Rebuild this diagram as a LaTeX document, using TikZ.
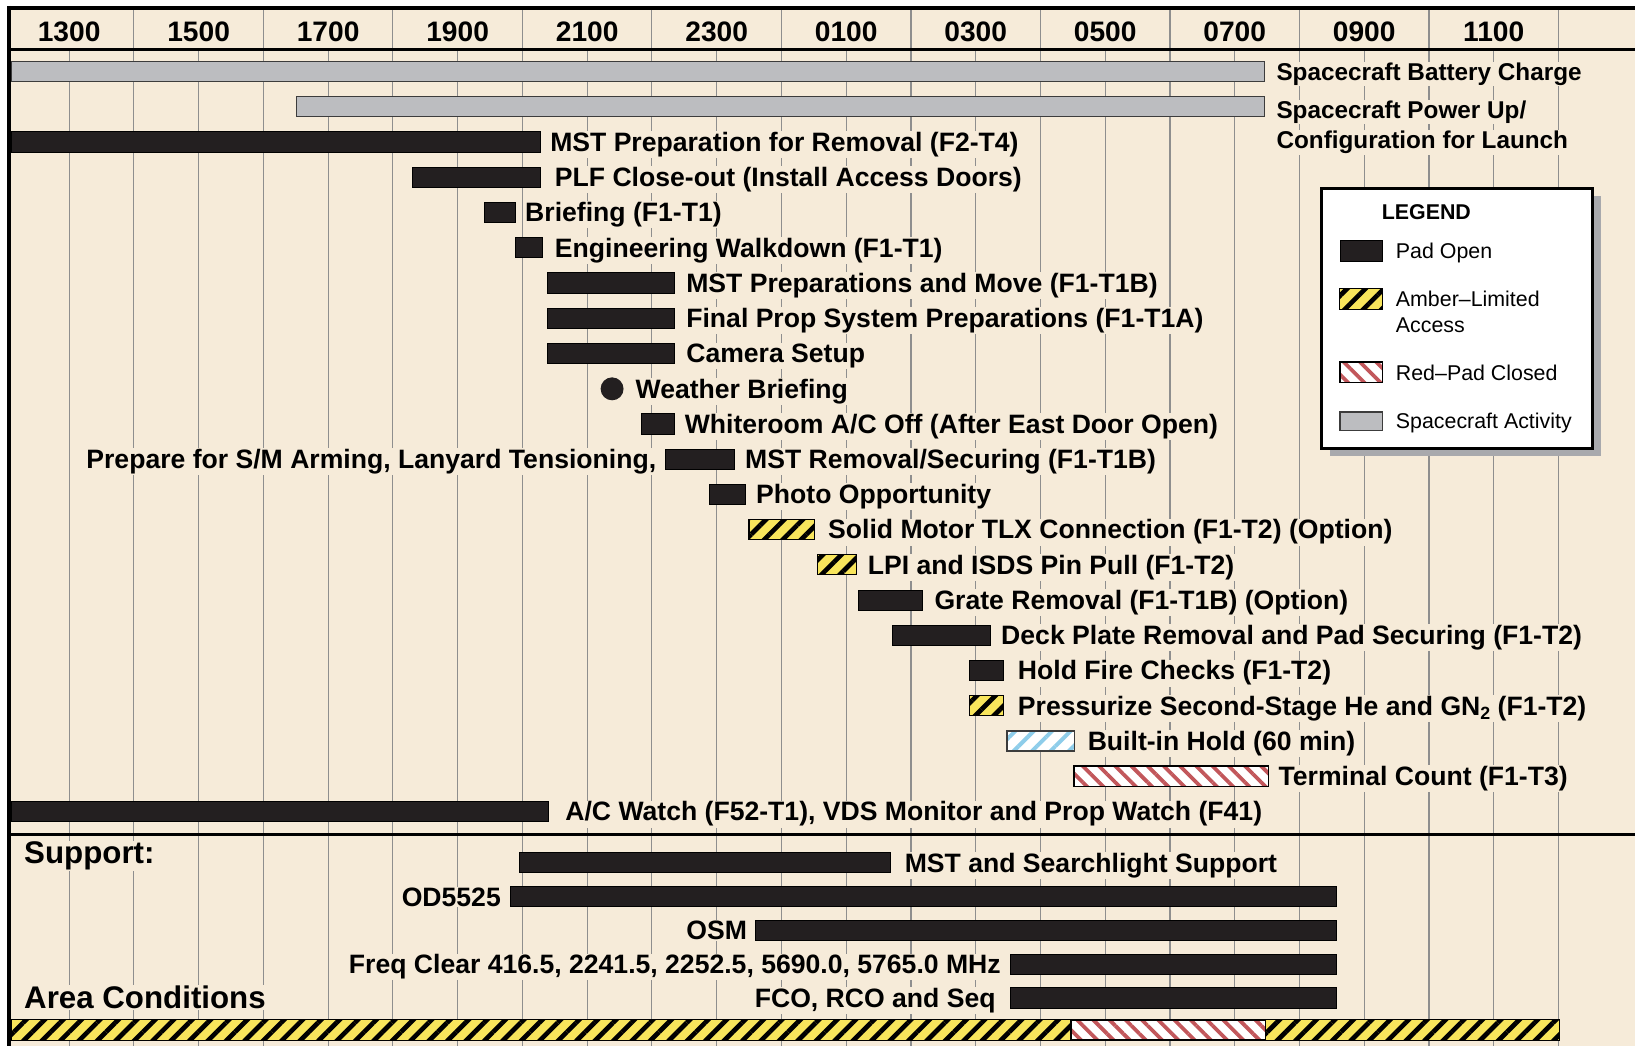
\documentclass[tikz,border=0pt]{standalone}
\usepackage{fontspec}
\setmainfont{Liberation Sans}
\usetikzlibrary{patterns.meta}
\definecolor{bg}{HTML}{F6EBD9}
\definecolor{barblack}{HTML}{231F20}
\definecolor{scgray}{HTML}{BCBDC0}
\definecolor{scedge}{HTML}{3C3C3C}
\definecolor{amberfill}{HTML}{F8E55C}
\definecolor{redstripe}{HTML}{C2575B}
\definecolor{bluestripe}{HTML}{8ECDEA}
\definecolor{gridc}{HTML}{8E8E8E}
\definecolor{shadowc}{HTML}{A8A9AD}
\newcommand\lblfont{\fontsize{25.5}{30}\selectfont\bfseries}
\newcommand\sclblfont{\fontsize{23.3}{28}\selectfont\bfseries}
\newcommand\hdrfont{\fontsize{27}{30}\selectfont\bfseries}
\newcommand\bigfont{\fontsize{30}{34}\selectfont\bfseries}
\newcommand\legfont{\fontsize{20.5}{24}\selectfont}
\newcommand\legbfont{\fontsize{20.5}{24}\selectfont\bfseries}
\newcommand\bx[4]{\path[#1] (#2,#4-9.7) rectangle (#3,#4+9.7);}
\begin{document}
\begin{tikzpicture}[x=1pt,y=-1pt,
  lbl/.style={font=\lblfont, anchor=base west, fill=bg, inner sep=1pt},
  sclbl/.style={lbl, font=\sclblfont},
  lble/.style={lbl, anchor=base east},
  hdr/.style={font=\hdrfont, anchor=base, inner sep=0pt},
  big/.style={font=\bigfont, anchor=base west, fill=bg, inner sep=1pt},
  leg/.style={font=\legfont, anchor=base west, inner sep=0pt},
  gridline/.style={draw=gridc, line width=1.1pt},
  frameline/.style={draw=black},
  blk/.style={fill=barblack, draw=black, line width=0.8pt},
  sc/.style={fill=scgray, draw=scedge, line width=1.3pt},
  amb/.style={preaction={fill=amberfill}, pattern={Lines[angle=45,distance=12.5pt,line width=4.5pt]}, pattern color=black, draw=black, line width=1pt},
  redh/.style={preaction={fill=white}, pattern={Lines[angle=-45,distance=11pt,line width=3.6pt]}, pattern color=redstripe, draw=black, line width=1.4pt},
  blueh/.style={preaction={fill=white}, pattern={Lines[angle=45,distance=12.5pt,line width=3.8pt]}, pattern color=bluestripe, draw=scedge, line width=1.4pt},
]
\useasboundingbox (0,0) rectangle (1568,1003);
\fill[white] (0,0) rectangle (1568,1003);
\fill[bg] (8,8) rectangle (1568,1003);

% grid
\foreach \h in {0,...,23} \draw[gridline] ({66.3+62.1*\h},48.8) -- ({66.3+62.1*\h},1003);
\foreach \h in {1,3,...,23} \draw[gridline] ({66.3+62.1*\h},9.7) -- ({66.3+62.1*\h},46.3);

% header labels
\foreach \t [count=\i from 0] in {1300,1500,1700,1900,2100,2300,0100,0300,0500,0700,0900,1100}
  \node[hdr] (h\i) at ({66.3+124.2*\i},40) {\t};

% frame lines
\draw[frameline, line width=4pt] (6.8,7.7) -- (1568,7.7);
\draw[frameline, line width=4pt] (8.8,5.7) -- (8.8,1003);
\draw[frameline, line width=2.5pt] (8.8,47.5) -- (1568,47.5);
\draw[frameline, line width=2.7pt] (8.8,800.5) -- (1568,800.5);

% rows
\bx{sc}{11}{1212.5}{68.5}
\node[sclbl] (t1) at (1223,77) {Spacecraft Battery Charge};
\bx{sc}{284.5}{1212.5}{102.3}
\node[sclbl] (t2a) at (1223,113.5) {Spacecraft Power Up/};
\node[sclbl] (t2b) at (1223,142.5) {Configuration for Launch};
\bx{blk}{11}{518.5}{136.1}
\node[lbl] (t3) at (526.5,145.1) {MST Preparation for Removal (F2-T4)};
\bx{blk}{395.4}{518.5}{169.9}
\node[lbl] (t4) at (531,178.9) {PLF Close-out (Install Access Doors)};
\bx{blk}{464.2}{494.5}{203.7}
\node[lbl] (t5) at (502.5,212.7) {Briefing (F1-T1)};
\bx{blk}{494.2}{520.4}{237.5}
\node[lbl] (t6) at (531,246.5) {Engineering Walkdown (F1-T1)};
\bx{blk}{524.6}{646.7}{271.3}
\node[lbl] (t7) at (657,280.3) {MST Preparations and Move (F1-T1B)};
\bx{blk}{524.6}{646.7}{305.1}
\node[lbl] (t8) at (657,314.1) {Final Prop System Preparations (F1-T1A)};
\bx{blk}{524.6}{646.7}{338.9}
\node[lbl] (t9) at (657,347.9) {Camera Setup};
\fill[barblack] (587,372.9) circle (11);
\node[lbl] (t10) at (608.4,381.7) {Weather Briefing};
\bx{blk}{615.4}{646.7}{406.5}
\node[lbl] (t11) at (655.5,415.5) {Whiteroom A/C Off (After East Door Open)};
\bx{blk}{637.8}{704}{440.3}
\node[lble] (t12a) at (630.5,449.3) {Prepare for S/M Arming, Lanyard Tensioning,};
\node[lbl] (t12b) at (713.5,449.3) {MST Removal/Securing (F1-T1B)};
\bx{blk}{680.3}{715.2}{474.1}
\node[lbl] (t13) at (724,483.1) {Photo Opportunity};
\bx{amb}{718.3}{781}{507.9}
\node[lbl] (t14) at (793,516.9) {Solid Motor TLX Connection (F1-T2) (Option)};
\bx{amb}{784.2}{821.6}{541.7}
\node[lbl] (t15) at (831,550.7) {LPI and ISDS Pin Pull (F1-T2)};
\bx{blk}{823.2}{884.3}{575.5}
\node[lbl] (t16) at (895,584.5) {Grate Removal (F1-T1B) (Option)};
\bx{blk}{855.8}{949.5}{609.3}
\node[lbl] (t17) at (959,618.3) {Deck Plate Removal and Pad Securing (F1-T2)};
\bx{blk}{929.3}{962.3}{643.1}
\node[lbl] (t18) at (975,652.1) {Hold Fire Checks (F1-T2)};
\bx{amb}{929.3}{962.3}{676.9}
\node[lbl] (t19) at (975,685.9) {Pressurize Second-Stage He and GN{\fontsize{17}{17}\selectfont\raisebox{-4.5pt}{2}} (F1-T2)};
\bx{blueh}{965.6}{1030.5}{710.7}
\node[lbl] (t20) at (1042,719.7) {Built-in Hold (60 min)};
\bx{redh}{1030}{1216.5}{744.5}
\node[lbl] (t21) at (1225,753.5) {Terminal Count (F1-T3)};
\bx{blk}{11}{526.3}{778.3}
\node[lbl] (t22) at (541,787.3) {A/C Watch (F52-T1), VDS Monitor and Prop Watch (F41)};

% support
\node[big] (sup) at (22,828) {Support:};
\bx{blk}{498}{854.3}{827.4}
\node[lbl] (s1) at (866.5,836.4) {MST and Searchlight Support};
\bx{blk}{489.4}{1282}{860}
\node[lble] (s2) at (481.5,869) {OD5525};
\bx{blk}{724.4}{1282}{892}
\node[lble] (s3) at (717.5,901) {OSM};
\bx{blk}{968.6}{1282}{925}
\node[lble] (s4) at (961,934) {Freq Clear 416.5, 2241.5, 2252.5, 5690.0, 5765.0 MHz};
\bx{blk}{968.6}{1282}{957}
\node[lble] (s5) at (956,966) {FCO, RCO and Seq};

% area conditions
\node[big] (area) at (22,967) {Area Conditions};
\path[amb] (11,978) rectangle (1027,997.4);
\path[amb] (1213.5,978) rectangle (1496,997.4);
\path[redh] (1027,978) rectangle (1213.5,997.4);

% legend
\fill[shadowc] (1275.1,188.1) rectangle (1535,437.5);
\draw[fill=white, line width=2.5pt] (1267.6,180.6) rectangle (1527.5,430);
\node[leg, font=\legbfont] (lgt) at (1325,210.3) {LEGEND};
\path[blk] (1285,231) rectangle (1326,251);
\node[leg] (lg1) at (1338.5,248) {Pad Open};
\path[amb] (1285,277) rectangle (1326,296.6);
\node[leg] (lg2a) at (1338.5,294.3) {Amber–Limited};
\node[leg] (lg2b) at (1338.5,319) {Access};
\path[redh] (1285,347) rectangle (1326,366.7);
\node[leg] (lg3) at (1338.5,365.3) {Red–Pad Closed};
\path[sc] (1285,395) rectangle (1326,413);
\node[leg] (lg4) at (1338.5,410.8) {Spacecraft Activity};
\end{tikzpicture}
\end{document}
